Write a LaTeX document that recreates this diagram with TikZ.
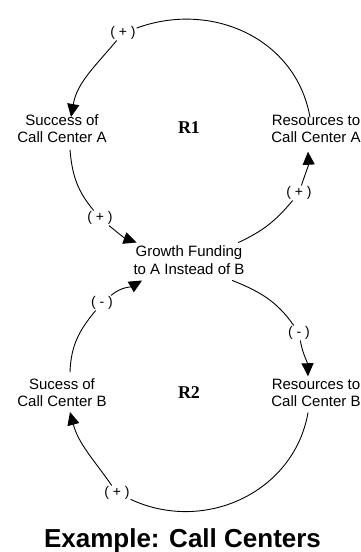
\documentclass[tikz,border=0pt]{standalone}
\usepackage{fontspec}
\setmainfont{Liberation Sans}
\newfontfamily\loopfont{Liberation Serif}
\usetikzlibrary{arrows.meta}
\begin{document}
\begin{tikzpicture}[x=1pt,y=1pt,
  var/.style={align=center, inner sep=0pt, outer sep=0pt, font=\fontsize{15}{17}\selectfont},
  pol/.style={inner sep=1pt, font=\fontsize{14}{16}\selectfont},
  loopname/.style={font=\loopfont\bfseries\fontsize{18}{20}\selectfont},
  link/.style={line width=0.9pt, line cap=round},
  arr/.style={link, -{Triangle[length=13pt,width=12pt]}},
]
\useasboundingbox (0,0) rectangle (361,552);
% variables
\node[var] (SA) at (62,423) {Success of\\Call Center A};
\node[var] (RA) at (316,423) {Resources to\\Call Center A};
\node[var, font=\fontsize{15}{18}\selectfont] (G) at (189,292) {Growth Funding\\to A Instead of B};
\node[var] (SB) at (62,159) {Sucess of\\Call Center B};
\node[var] (RB) at (316,159) {Resources to\\Call Center B};
% loop names
\node[loopname] (R1) at (189,424) {R1};
\node[loopname] (R2) at (189,159) {R2};
% polarities
\node[pol] (L1) at (123,519) {( + )};
\node[pol] (L2) at (100,334) {( + )};
\node[pol] (L3) at (299,359) {( + )};
\node[pol] (L4) at (102,249) {( - )};
\node[pol] (L5) at (299,219) {( - )};
\node[pol] (L6) at (117,59) {( + )};
% title
\node[anchor=base, font=\bfseries\fontsize{26}{30}\selectfont] (T) at (182.5,5) {Example: Call Centers};
% loop R1
\draw[link] ([shift={(-6,-2)}]RA.north) to[out=100,in=20,looseness=1.05] (L1);
\draw[arr] (L1) to[out=230,in=80] ([shift={(9,-2)}]SA.north);
\draw[link] ([shift={(8,-7)}]SA.south) to[out=-85,in=130] (L2);
\draw[arr] (L2) to[out=-40,in=160] ([shift={(3,3)}]G.north west);
\draw[link] ([shift={(-6,3)}]G.north east) to[out=25,in=230] (L3);
\draw[arr] (L3) to[out=72,in=-87] ([shift={(-8,-9)}]RA.south);
% loop R2
\draw[link] ([shift={(8,7)}]SB.north) to[out=88,in=230] (L4);
\draw[arr] (L4) to[out=40,in=210] ([shift={(8.5,-6)}]G.south west);
\draw[link] ([shift={(-12,-6)}]G.south east) to[out=-22,in=125] (L5);
\draw[arr] (L5) to[out=-80,in=92] ([shift={(-8,3)}]RB.north);
\draw[link] ([shift={(-8,-6)}]RB.south) to[out=-100,in=-25,looseness=1.05] (L6);
\draw[arr] (L6) to[out=125,in=-75] ([shift={(8,-5)}]SB.south);
\end{tikzpicture}
\end{document}
